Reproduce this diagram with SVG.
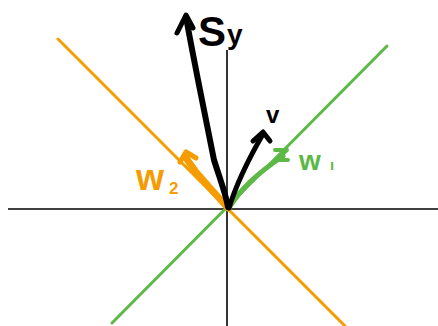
<svg xmlns="http://www.w3.org/2000/svg" width="438" height="326" viewBox="0 0 438 326">
<style>
.ax{stroke:#000;stroke-width:1.6;fill:none}
.ln{stroke-width:3;fill:none;stroke-linecap:round}
.vec{fill:none;stroke-linecap:round;stroke-linejoin:round}
.lbl{font-family:"Liberation Sans",Arial,sans-serif;font-weight:bold}
</style>
<rect width="438" height="326" fill="#fff"/>
<g id="axes">
<line class="ax" x1="8" y1="209" x2="438" y2="209"/>
<line class="ax" x1="227" y1="50" x2="227" y2="326"/>
</g>
<g id="lines">
<line class="ln" stroke="#F59C00" x1="58" y1="39" x2="345" y2="326"/>
<line class="ln" stroke="#5CB946" x1="387" y1="46" x2="112" y2="323"/>
</g>
<g id="connectors">
<path class="vec" stroke="#F59C00" stroke-width="7" d="M228 208 L210 188 L196 172 L186 158"/>
<path class="vec" stroke="#F59C00" stroke-width="5" d="M180 162 L186 152 L196 158"/>
<path class="vec" stroke="#5CB946" stroke-width="5" d="M229 208 C240 190 255 175 283 156"/>
<path class="vec" stroke="#5CB946" stroke-width="4" d="M275 150 L287 150 L276 160 L288 160"/>
<path class="vec" stroke="#000" stroke-width="5" d="M229 208 C236 185 248 160 263 134"/>
<path class="vec" stroke="#000" stroke-width="5" d="M253 141 L263 132 L270 141"/>
<path class="vec" stroke="#000" stroke-width="6" d="M228 207 C226 195 222 185 214 160 C210 140 206 120 202 100 C197 75 192 50 186 17"/>
<path class="vec" stroke="#000" stroke-width="5" d="M177 33 L186 15 L193 28"/>
</g>
<g id="labels">
<text class="lbl" x="198" y="46" font-size="42">S</text>
<text class="lbl" x="227" y="44" font-size="28">y</text>
<text class="lbl" x="266" y="123" font-size="24">v</text>
<text class="lbl" x="299" y="170" font-size="28" font-weight="normal" fill="#5CB946">w</text>
<text class="lbl" x="330" y="170" font-size="15" fill="#5CB946">ı</text>
<text class="lbl" x="136" y="190" font-size="36" font-weight="normal" fill="#F59C00">w</text>
<text class="lbl" x="169" y="194" font-size="17" fill="#F59C00">2</text>
</g>
</svg>
